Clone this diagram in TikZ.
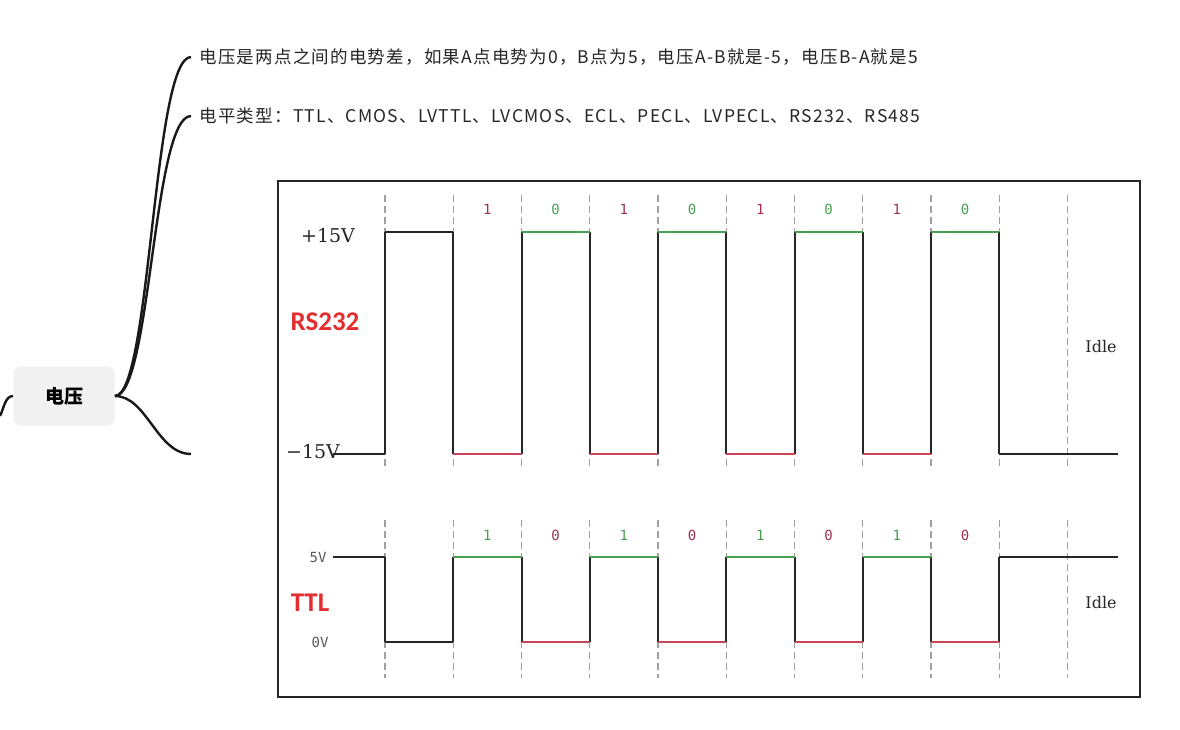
\documentclass[tikz,border=0pt]{standalone}
\usepackage{fontspec}
\usepackage[dvipsnames]{xcolor}
\newfontfamily\cjkfont{Noto Sans CJK SC}
\newfontfamily\notefont[LetterSpace=7]{Noto Sans CJK SC}
\newfontfamily\voltfont{DejaVu Serif}
\newfontfamily\bitfont{DejaVu Sans Mono}
\newfontfamily\tagfont{Carlito}
\definecolor{nodegray}{RGB}{241,241,241}
\definecolor{dashgray}{RGB}{160,160,160}
\definecolor{bitgreen}{RGB}{70,160,80}
\definecolor{bitred}{RGB}{200,70,85}
\definecolor{bitwine}{RGB}{160,50,80}
\definecolor{tagred}{RGB}{228,45,45}

\begin{document}
\begin{tikzpicture}[x=1pt,y=-1pt,thick,
  main node/.style={rounded corners=7pt,fill=nodegray,minimum width=101pt,minimum height=59pt,font=\cjkfont\bfseries\fontsize{19}{21}\selectfont},
  note/.style={anchor=west,inner sep=0pt,font=\notefont\fontsize{17.5}{20}\selectfont,text=black!85},
  branch/.style={line width=2.4pt,black!90},
  frame/.style={line width=2.5pt,black!85},
  grid dash/.style={dashgray,line width=1.4pt,dash pattern=on 7pt off 4pt},
  wave/.style={line width=2pt,black!85},
  high line/.style={line width=2pt,bitgreen},
  low line/.style={line width=2pt,bitred},
  bit/.style={inner sep=0pt,font=\bitfont\fontsize{14}{16}\selectfont},
  volt/.style={inner sep=0pt,font=\voltfont\fontsize{19}{21}\selectfont,text=black!85},
  ttl volt/.style={inner sep=0pt,font=\bitfont\fontsize{14}{16}\selectfont,text=black!65},
  tag/.style={inner sep=0pt,font=\tagfont\bfseries\fontsize{27}{30}\selectfont,text=tagred},
  idle/.style={inner sep=0pt,font=\voltfont\fontsize{16}{18}\selectfont,text=black!85}]

    \fill[white] (0,0) rectangle (1180,730);
    \useasboundingbox (0,0) rectangle (1180,730);

    % mind map part
    \node[main node] (1) at (64,396) {电压};
    \node[note] (2) at (199,57) {电压是两点之间的电势差，如果A点电势为0，B点为5，电压A-B就是-5，电压B-A就是5};
    \node[note] (3) at (199,116) {电平类型：TTL、CMOS、LVTTL、LVCMOS、ECL、PECL、LVPECL、RS232、RS485};
    \coordinate (4) at (191,454);
    \coordinate (5) at (0,416);

    \draw[branch] (1.east) .. controls +(36,0) and +(-38,0) .. ([xshift=-8pt]2.west);
    \draw[branch] (1.east) .. controls +(36,0) and +(-38,0) .. ([xshift=-8pt]3.west);
    \draw[branch] (1.east) .. controls +(32,0) and +(-34,0) .. (4);
    \draw[branch] (1.west) .. controls +(-8,0) and +(4,-8) .. (5);

    % signal picture
    \draw[frame] (278,181) rectangle (1140,697);

    \foreach \i in {0,...,10}
        \draw[grid dash] ({385+68.25*\i},195) -- ({385+68.25*\i},470)
                         ({385+68.25*\i},520) -- ({385+68.25*\i},678);

    % RS232
    \node[volt] (6) at (328,236) {+15V};
    \node[volt] (7) at (313,452) {−15V};
    \node[tag] (8) at (325,322) {RS232};
    \node[idle] (9) at (1101,347) {Idle};

    \draw[wave] (333,454) -- (385,454);
    \draw[wave] (385,232) -- (453.25,232);
    \draw[wave] (999.25,454) -- (1118,454);
    \foreach \i in {0,...,9}
        \draw[wave] ({385+68.25*\i},232) -- ({385+68.25*\i},454);

    % TTL
    \node[ttl volt] (10) at (318,557) {5V};
    \node[ttl volt] (11) at (320,642) {0V};
    \node[tag] (12) at (310,603) {TTL};
    \node[idle] (13) at (1101,603) {Idle};

    \draw[wave] (333,557) -- (385,557);
    \draw[wave] (385,642) -- (453.25,642);
    \draw[wave] (999.25,557) -- (1118,557);
    \foreach \i in {0,...,9}
        \draw[wave] ({385+68.25*\i},557) -- ({385+68.25*\i},642);

    % bits
    \foreach \k in {1,3,5,7} {
        \draw[low line] ({385+68.25*\k},454) -- ({385+68.25*(\k+1)},454);
        \draw[high line] ({385+68.25*\k},557) -- ({385+68.25*(\k+1)},557);
        \node[bit,text=bitwine] (r\k) at ({385+68.25*(\k+0.5)},209) {1};
        \node[bit,text=bitgreen] (t\k) at ({385+68.25*(\k+0.5)},535) {1};
    }
    \foreach \k in {2,4,6,8} {
        \draw[high line] ({385+68.25*\k},232) -- ({385+68.25*(\k+1)},232);
        \draw[low line] ({385+68.25*\k},642) -- ({385+68.25*(\k+1)},642);
        \node[bit,text=bitgreen] (r\k) at ({385+68.25*(\k+0.5)},209) {0};
        \node[bit,text=bitwine] (t\k) at ({385+68.25*(\k+0.5)},535) {0};
    }
\end{tikzpicture}
\end{document}
